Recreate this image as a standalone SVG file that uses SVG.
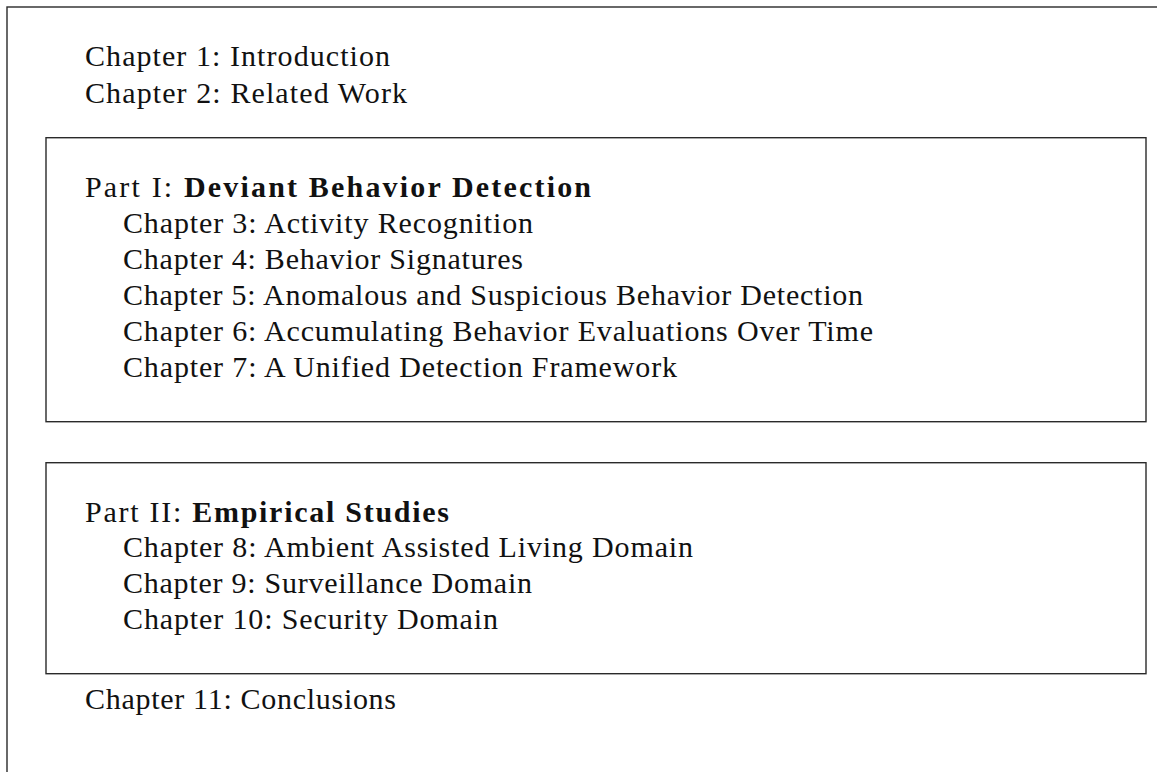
<svg xmlns="http://www.w3.org/2000/svg" width="1157" height="772" viewBox="0 0 1157 772">
  <style>
    .frame { fill: none; stroke: #2a2a2a; stroke-width: 1.4; }
    .t { font-family: "Liberation Serif", "Times New Roman", serif; font-size: 30px; fill: #111; }
    .b { font-weight: bold; }
  </style>
  <rect x="0" y="0" width="1157" height="772" fill="#ffffff"/>

  <!-- thesis outline frame (runs past the right and bottom edges) -->
  <g id="outline">
    <rect class="frame" x="7" y="7" width="1200" height="820"/>
    <text class="t" x="85" y="66" textLength="305" lengthAdjust="spacing">Chapter 1: Introduction</text>
    <text class="t" x="85" y="102.7" textLength="322" lengthAdjust="spacing">Chapter 2: Related Work</text>
    <text class="t" x="85" y="709" textLength="311" lengthAdjust="spacing">Chapter 11: Conclusions</text>
  </g>

  <!-- Part I block -->
  <g id="part1">
    <rect class="frame" x="46" y="137.7" width="1100" height="284"/>
    <text class="t" x="85" y="197" textLength="506" lengthAdjust="spacing">Part I: <tspan class="b">Deviant Behavior Detection</tspan></text>
    <text class="t" x="123" y="233" textLength="410" lengthAdjust="spacing">Chapter 3: Activity Recognition</text>
    <text class="t" x="123" y="269" textLength="400" lengthAdjust="spacing">Chapter 4: Behavior Signatures</text>
    <text class="t" x="123" y="305" textLength="740" lengthAdjust="spacing">Chapter 5: Anomalous and Suspicious Behavior Detection</text>
    <text class="t" x="123" y="341" textLength="750" lengthAdjust="spacing">Chapter 6: Accumulating Behavior Evaluations Over Time</text>
    <text class="t" x="123" y="377" textLength="554" lengthAdjust="spacing">Chapter 7: A Unified Detection Framework</text>
  </g>

  <!-- Part II block -->
  <g id="part2">
    <rect class="frame" x="46" y="462.7" width="1100" height="211"/>
    <text class="t" x="85" y="521.5" textLength="364" lengthAdjust="spacing">Part II: <tspan class="b">Empirical Studies</tspan></text>
    <text class="t" x="123" y="557" textLength="570" lengthAdjust="spacing">Chapter 8: Ambient Assisted Living Domain</text>
    <text class="t" x="123" y="593" textLength="409" lengthAdjust="spacing">Chapter 9: Surveillance Domain</text>
    <text class="t" x="123" y="629" textLength="375" lengthAdjust="spacing">Chapter 10: Security Domain</text>
  </g>
</svg>
